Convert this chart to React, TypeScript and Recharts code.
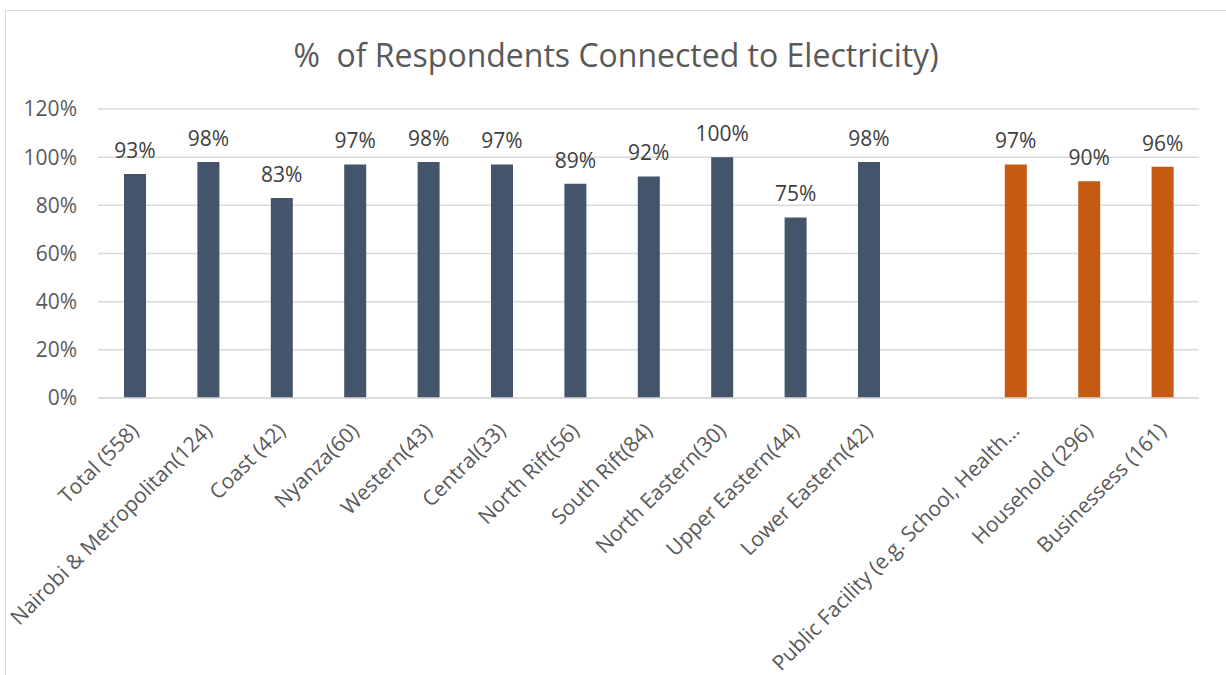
import { BarChart, Bar, XAxis, YAxis, CartesianGrid, LabelList, Cell } from "recharts";

const regionLabels = [
  "Total (558)",
  "Nairobi & Metropolitan(124)",
  "Coast (42)",
  "Nyanza(60)",
  "Western(43)",
  "Central(33)",
  "North Rift(56)",
  "South Rift(84)",
  "North Eastern(30)",
  "Upper Eastern(44)",
  "Lower Eastern(42)",
];
const regionValues = [93, 98, 83, 97, 98, 97, 89, 92, 100, 75, 98];

const typeLabels = ["Public Facility (e.g. School, Health…", "Household (296)", "Businessess (161)"];
const typeValues = [97, 90, 96];

const yTicks = [0, 20, 40, 60, 80, 100, 120];

const COLORS: Record<string, string> = { region: "#44546A", type: "#C55A11" };

// regions, one empty slot, then respondent types
const data = [
  ...regionLabels.map((name, i) => ({ name, value: regionValues[i], group: "region" })),
  { name: " ", value: null as number | null, group: "gap" },
  ...typeLabels.map((name, i) => ({ name, value: typeValues[i], group: "type" })),
];

const FONT = "'Open Sans', sans-serif";

function AngledTick(props: any) {
  const { x, y, payload } = props;
  return (
    <g transform={`translate(${x},${y})`}>
      <text
        x={0}
        y={0}
        dy="0.35em"
        textAnchor="end"
        transform="rotate(-45)"
        fill="#595959"
        fontSize={21}
        fontFamily={FONT}
      >
        {payload.value}
      </text>
    </g>
  );
}

export default function App() {
  return (
    <div style={{ position: "absolute", left: 0, top: 0, width: 1226, height: 675, background: "#fff", overflow: "hidden", fontFamily: FONT }}>
      <div
        style={{
          position: "absolute",
          left: 5,
          top: 10,
          width: 1300,
          height: 700,
          border: "1px solid #d9d9d9",
        }}
      />
      <div
        style={{
          position: "absolute",
          left: 0,
          top: 33,
          width: 1232,
          textAlign: "center",
          fontSize: 32,
          color: "#595959",
          lineHeight: "44px",
          whiteSpace: "pre",
        }}
      >
        {"%  of Respondents Connected to Electricity)"}
      </div>
      <div style={{ position: "absolute", left: 0, top: 0 }}>
        <BarChart width={1226} height={675} data={data} margin={{ top: 109, right: 27, left: 0, bottom: 0 }}>
          <CartesianGrid vertical={false} stroke="#d9d9d9" strokeWidth={1.5} />
          <XAxis
            dataKey="name"
            interval={0}
            height={277}
            tickLine={false}
            tickSize={0}
            tickMargin={29}
            axisLine={{ stroke: "#d9d9d9", strokeWidth: 1.5 }}
            tick={<AngledTick />}
          />
          <YAxis
            width={98}
            domain={[0, 120]}
            ticks={yTicks}
            interval={0}
            axisLine={false}
            tickLine={false}
            tickSize={0}
            tickMargin={21}
            tickFormatter={(v: number) => `${v}%`}
            tick={{ fill: "#595959", fontSize: 21, fontFamily: FONT }}
          />
          <Bar dataKey="value" barSize={22} isAnimationActive={false}>
            {data.map((d, i) => (
              <Cell key={i} fill={COLORS[d.group] ?? "none"} />
            ))}
            <LabelList
              dataKey="value"
              position="top"
              offset={16}
              fill="#404040"
              fontSize={21}
              fontFamily={FONT}
              formatter={(v: any) => (v == null ? "" : `${v}%`)}
            />
          </Bar>
        </BarChart>
      </div>
    </div>
  );
}
